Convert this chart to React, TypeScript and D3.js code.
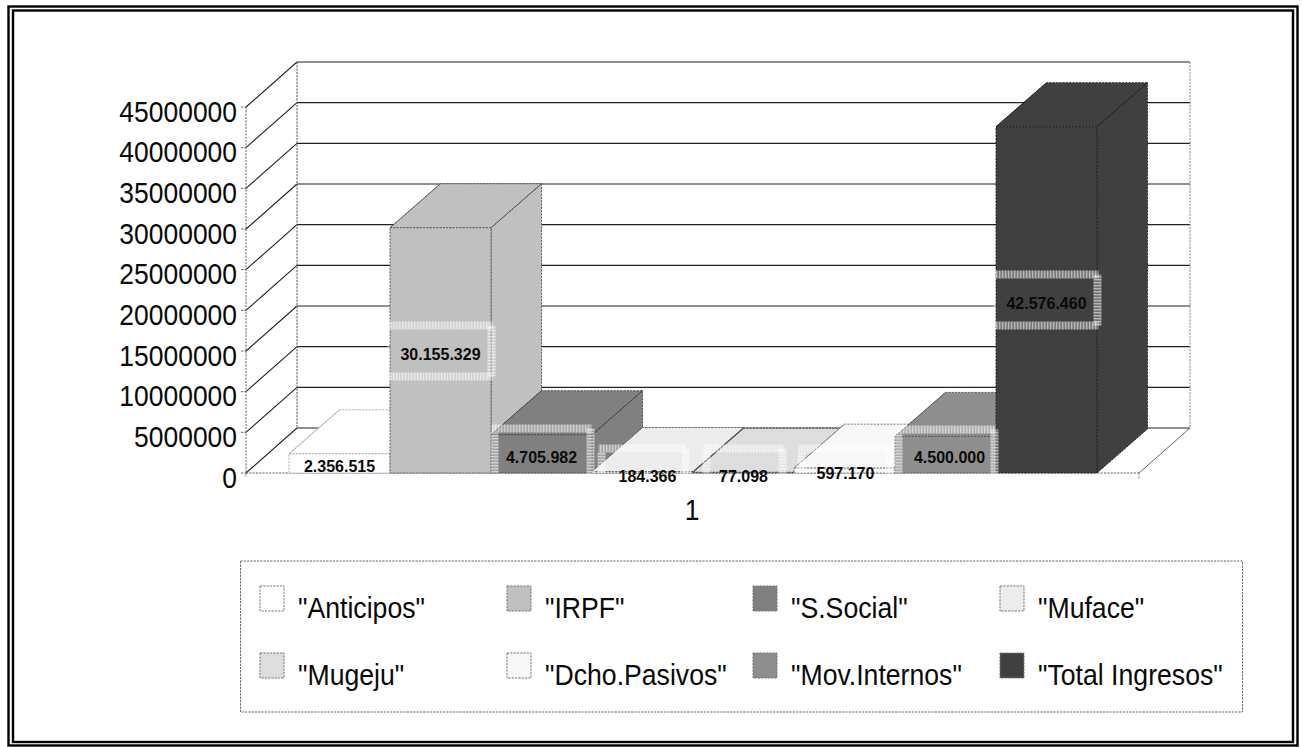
import React from "react";
import * as d3 from "d3";

const W = 1303, H = 747;
const categories = ['"Anticipos"', '"IRPF"', '"S.Social"', '"Muface"', '"Mugeju"', '"Dcho.Pasivos"', '"Mov.Internos"', '"Total Ingresos"'];
const values = [2356515, 30155329, 4705982, 184366, 77098, 597170, 4500000, 42576460];
const valueLabels = ["2.356.515", "30.155.329", "4.705.982", "184.366", "77.098", "597.170", "4.500.000", "42.576.460"];
const fills = ["#ffffff", "#c0c0c0", "#808080", "#ececec", "#dddddd", "#f8f8f8", "#8e8e8e", "#404040"];
const strokes = ["#aaaaaa", "#555555", "#444444", "#666666", "#444444", "#777777", "#555555", "#222222"];
const labelBase = [472, 359.5, 463, 481.5, 481.5, 478.5, 462.5, 308.5];
const frameCy = [467, 351, 454, 474, 474, 474, 455, 300];
const labelDx = [0, 0, 0, 5, 0, 1, 4, 0];
const frameW = [100, 104, 100, 88, 80, 92, 100, 104];
const frameOn = [false, true, true, true, true, true, true, true];
const yTicks = [0, 5000000, 10000000, 15000000, 20000000, 25000000, 30000000, 35000000, 40000000, 45000000];
const legendCols = [260, 507, 753, 1000];
const legendTextDx = [38, 38, 38, 38];
const legendRows = [586, 653];

const FONT = "'Liberation Sans', Arial, sans-serif";
const y = d3.scaleLinear().domain([0, 45000000]).range([473, 107]);
const band = d3.scaleBand<number>().domain(d3.range(8)).range([289, 1097]).paddingInner(0).paddingOuter(0);
const DX = 51, DY = -45;
const poly = d3.line<[number, number]>().x(d => d[0]).y(d => d[1]);
const closed = (p: [number, number][]) => poly(p) + "Z";
const DASH = "2.2 1.1";

function Frame({ cx, cy, w, h, i }: { cx: number; cy: number; w: number; h: number; i: number }) {
  const t = 8;
  const x0 = cx - w / 2, y0 = cy - h / 2;
  const clipBottom = 473;
  const yb = y0 + h - t;
  const sideH = Math.min(yb, clipBottom) - y0 - t;
  return (
    <g>
      <rect x={x0} y={y0} width={w} height={t} fill="url(#hatchH)" />
      {yb + t <= clipBottom && <rect x={x0} y={yb} width={w} height={t} fill="url(#hatchH)" />}
      <rect x={x0 - 1} y={y0 + t} width={i === 1 || i === 7 ? 2 : t} height={sideH} fill="url(#hatchV)" />
      <rect x={x0 + w - t + 3} y={y0 + t / 2} width={t} height={sideH + t} fill="url(#hatchV)" />
    </g>
  );
}

function NarrowText({ x, y, anchor, size, children }: { x: number; y: number; anchor?: string; size: number; children: React.ReactNode }) {
  return (
    <text transform={`translate(${x},${y}) scale(0.925,1)`} textAnchor={anchor} fontSize={size} fill="#0a0a0a">{children}</text>
  );
}

export default function App() {
  const gx0 = 246, gx1 = 1139;
  return (
    <svg width={W} height={H} viewBox={`0 0 ${W} ${H}`} style={{ position: "absolute", left: 0, top: 0, background: "#fff" }} fontFamily={FONT}>
      <defs>
        <pattern id="hatchH" width="3" height="8" patternUnits="userSpaceOnUse">
          <rect width="1.5" height="8" fill="#fff" fillOpacity="0.62" />
          <rect x="1.5" width="1.5" height="8" fill="#fff" fillOpacity="0.3" />
        </pattern>
        <pattern id="hatchV" width="8" height="3" patternUnits="userSpaceOnUse">
          <rect width="8" height="1.5" fill="#fff" fillOpacity="0.62" />
          <rect y="1.5" width="8" height="1.5" fill="#fff" fillOpacity="0.3" />
        </pattern>
      </defs>

      {/* outer double border */}
      <rect x={8.5} y={6.5} width={1289} height={739} fill="none" stroke="#000" strokeWidth={2.4} />
      <rect x={13} y={10.5} width={1280} height={731.5} fill="none" stroke="#000" strokeWidth={2.4} />

      {/* walls and grid */}
      {yTicks.map(t => (
        <g key={t}>
          <line x1={gx0 + DX} x2={gx1 + DX} y1={y(t) + DY} y2={y(t) + DY} stroke="#222" strokeWidth={1.2} />
          <line x1={gx0} x2={gx0 + DX} y1={y(t)} y2={y(t) + DY} stroke="#222" strokeWidth={1.1} />
          <line x1={gx0 - 5} x2={gx0} y1={y(t)} y2={y(t)} stroke="#666" strokeDasharray={DASH} />
          <NarrowText x={237} y={y(t) + 14.7} anchor="end" size={28.6}>{t}</NarrowText>
        </g>
      ))}
      <line x1={gx0} x2={gx0} y1={y(45000000)} y2={y(0) + 4} stroke="#666" strokeDasharray={DASH} />
      <line x1={gx0 + DX} x2={gx0 + DX} y1={y(45000000) + DY} y2={y(0) + DY} stroke="#555" strokeDasharray={DASH} />
      <line x1={gx1 + DX} x2={gx1 + DX} y1={y(45000000) + DY} y2={y(0) + DY} stroke="#888" strokeDasharray={DASH} />
      <line x1={gx1} x2={gx1 + DX} y1={y(0)} y2={y(0) + DY} stroke="#555" strokeWidth={0.9} />
      <line x1={gx0} x2={gx1} y1={y(0)} y2={y(0)} stroke="#666" strokeWidth={1.2} strokeDasharray={DASH} />
      <line x1={gx1} x2={gx1} y1={y(0)} y2={y(0) + 6} stroke="#888" strokeDasharray={DASH} />

      {/* bars */}
      {values.map((v, i) => {
        const x0 = band(i)!, x1 = x0 + band.bandwidth(), yt = y(v), yb = y(0);
        const d = 50.5, e = -44;
        return (
          <g key={i} fill={fills[i]} stroke={strokes[i]} strokeWidth={0.9} strokeDasharray={DASH}>
            <path d={closed([[x1, yb], [x1 + d, yb + e], [x1 + d, yt + e], [x1, yt]])} />
            <path d={closed([[x0, yt], [x1, yt], [x1 + d, yt + e], [x0 + d, yt + e]])} />
            <rect x={x0} y={yt} width={x1 - x0} height={yb - yt} />
            <line x1={x1} y1={yt} x2={x1 + d} y2={yt + e} strokeDasharray="none" strokeWidth={0.8} />
            <line x1={x0} y1={yt} x2={x0 + d} y2={yt + e} strokeDasharray="none" strokeWidth={0.8} />
          </g>
        );
      })}

      {/* value labels */}
      {values.map((_, i) => {
        const cx = band(i)! + band.bandwidth() / 2;
        return (
          <g key={i}>
            {frameOn[i] && <Frame cx={cx} cy={frameCy[i]} w={frameW[i]} h={59} i={i} />}
            <text transform={`translate(${cx + labelDx[i]},${labelBase[i]}) scale(0.97,1)`} textAnchor="middle" fontSize={16.5} fontWeight="bold" fill="#0a0a0a">{valueLabels[i]}</text>
          </g>
        );
      })}

      <NarrowText x={692} y={520} anchor="middle" size={28.6}>1</NarrowText>

      {/* legend */}
      <rect x={240.5} y={561} width={1002} height={151} fill="#fff" stroke="#666" strokeDasharray={DASH} />
      {categories.map((c, i) => {
        const col = i % 4, row = Math.floor(i / 4);
        const sx = legendCols[col], sy = legendRows[row];
        return (
          <g key={c}>
            <rect x={sx} y={sy} width={24} height={25} fill={fills[i]} stroke="#777" strokeDasharray={DASH} />
            <NarrowText x={sx + legendTextDx[col]} y={sy + 32} size={28.8}>{c}</NarrowText>
          </g>
        );
      })}
    </svg>
  );
}
